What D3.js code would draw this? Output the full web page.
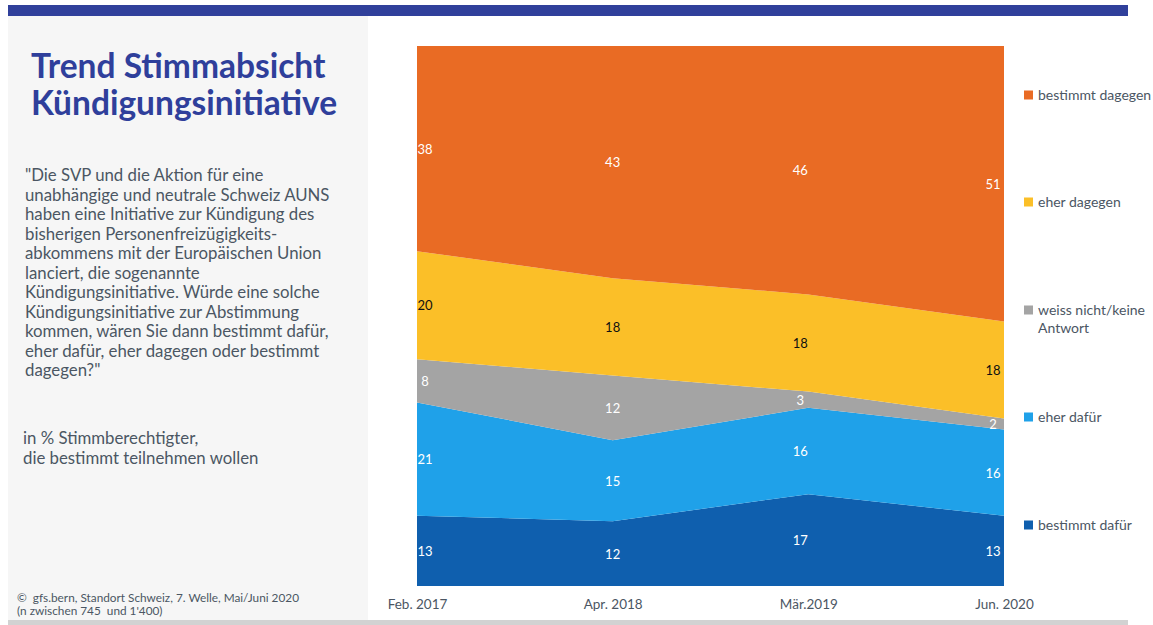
<!DOCTYPE html>
<html>
<head>
<meta charset="utf-8">
<script src="https://cdn.jsdelivr.net/npm/d3@7"></script>
<style>
  html, body { margin: 0; padding: 0; background: #ffffff; }
  svg { display: block; font-family: "Lato", "Noto Sans", sans-serif; }
</style>
</head>
<body>
<svg id="chart" width="1153" height="625"></svg>
<script>
// Survey waves (x axis)
const waves = ["Feb. 2017", "Apr. 2018", "Mär.2019", "Jun. 2020"];

// Answer categories, stacked from bottom to top
const categories = ["bestimmt dafür", "eher dafür", "weiss nicht/keine Antwort", "eher dagegen", "bestimmt dagegen"];

// Shares in % per wave
const bestimmtDafuer  = [13, 12, 17, 13];
const eherDafuer      = [21, 15, 16, 16];
const weissNicht      = [8, 12, 3, 2];
const eherDagegen     = [20, 18, 18, 18];
const bestimmtDagegen = [38, 43, 46, 51];

const seriesValues = [bestimmtDafuer, eherDafuer, weissNicht, eherDagegen, bestimmtDagegen];
const colors = ["#0f5fae", "#1fa1e9", "#a4a4a4", "#fbbf28", "#e96b24"];
const labelColors = ["#ffffff", "#ffffff", "#ffffff", "#111111", "#ffffff"];

const svg = d3.select("#chart");

// Frame: top band, side panel, bottom rule
svg.append("rect").attr("x", 8).attr("y", 5).attr("width", 1120).attr("height", 11).attr("fill", "#30409b");
svg.append("rect").attr("x", 8).attr("y", 16).attr("width", 360).attr("height", 604).attr("fill", "#f6f6f6");
svg.append("rect").attr("x", 8).attr("y", 620).attr("width", 1120).attr("height", 5).attr("fill", "#d2d2d2");

// Title
const title = svg.append("text").attr("x", 31).attr("fill", "#2f3f9b")
  .attr("font-size", 33.5).attr("font-weight", 700);
title.append("tspan").attr("x", 31).attr("y", 78).text("Trend Stimmabsicht");
title.append("tspan").attr("x", 31).attr("y", 115).text("Kündigungsinitiative");

// Question text
const question = [
  "\"Die SVP und die Aktion für eine",
  "unabhängige und neutrale Schweiz AUNS",
  "haben eine Initiative zur Kündigung des",
  "bisherigen Personenfreizügigkeits-",
  "abkommens mit der Europäischen Union",
  "lanciert, die sogenannte",
  "Kündigungsinitiative. Würde eine solche",
  "Kündigungsinitiative zur Abstimmung",
  "kommen, wären Sie dann bestimmt dafür,",
  "eher dafür, eher dagegen oder bestimmt",
  "dagegen?\""
];
svg.append("g").selectAll("text").data(question).join("text")
  .attr("x", 25).attr("y", (d, i) => 181 + i * 19.5)
  .attr("font-size", 16.8).attr("fill", "#4b5663").text(d => d);

const base = ["in % Stimmberechtigter,", "die bestimmt teilnehmen wollen"];
svg.append("g").selectAll("text").data(base).join("text")
  .attr("x", 23).attr("y", (d, i) => 444 + i * 20)
  .attr("font-size", 16.8).attr("fill", "#4b5663").text(d => d);

// Source note
svg.append("text").attr("x", 17).attr("y", 602).attr("font-size", 11.8).attr("fill", "#4b5663")
  .attr("xml:space", "preserve")
  .text("©  gfs.bern, Standort Schweiz, 7. Welle, Mai/Juni 2020");
svg.append("text").attr("x", 17).attr("y", 615).attr("font-size", 11.8).attr("fill", "#4b5663")
  .attr("xml:space", "preserve")
  .text("(n zwischen 745  und 1'400)");

// Stacked area chart
const x = d3.scalePoint().domain(waves).range([417, 1004]);
const y = d3.scaleLinear().domain([0, 100]).range([586, 46]);

const table = waves.map((w, i) => {
  const row = { wave: w };
  categories.forEach((c, k) => { row[c] = seriesValues[k][i]; });
  return row;
});

const stacked = d3.stack().keys(categories)(table);

const area = d3.area()
  .x(d => x(d.data.wave))
  .y0(d => y(d[0]))
  .y1(d => y(d[1]));

svg.append("g").selectAll("path").data(stacked).join("path")
  .attr("d", area)
  .attr("fill", (d, i) => colors[i]);

// Value labels inside each band
const labelShift = [8, 0, -8, -11];
const labels = svg.append("g").attr("font-size", 13).attr("text-anchor", "middle");
stacked.forEach((s, k) => {
  labels.selectAll(null).data(s).join("text")
    .attr("x", (d, i) => x(d.data.wave) + labelShift[i])
    .attr("y", d => y((d[0] + d[1]) / 2) + 5)
    .attr("fill", labelColors[k])
    .text(d => d[1] - d[0]);
});

// X axis labels
const xAxis = svg.append("g").attr("transform", "translate(0,586)")
  .call(d3.axisBottom(x).tickSize(0).tickPadding(13));
xAxis.select(".domain").remove();
xAxis.selectAll("text").attr("font-size", 13.5).attr("fill", "#4b5663")
  .attr("font-family", "Lato, 'Noto Sans', sans-serif");

// Legend, top to bottom
const legendItems = categories.map((c, k) => ({ name: c, color: colors[k] })).reverse();
const legendY = [95, 202, 310, 417, 525];
const legend = svg.append("g");
legendItems.forEach((item, i) => {
  const g = legend.append("g").attr("transform", `translate(1024,${legendY[i]})`);
  g.append("rect").attr("x", 0).attr("y", -4.5).attr("width", 9).attr("height", 9).attr("fill", item.color);
  const t = g.append("text").attr("x", 14).attr("y", 5).attr("font-size", 14).attr("fill", "#4b5663");
  if (item.name === "weiss nicht/keine Antwort") {
    t.append("tspan").attr("x", 14).attr("y", 5).text("weiss nicht/keine");
    t.append("tspan").attr("x", 14).attr("y", 23).text("Antwort");
  } else {
    t.text(item.name);
  }
});
</script>
</body>
</html>
